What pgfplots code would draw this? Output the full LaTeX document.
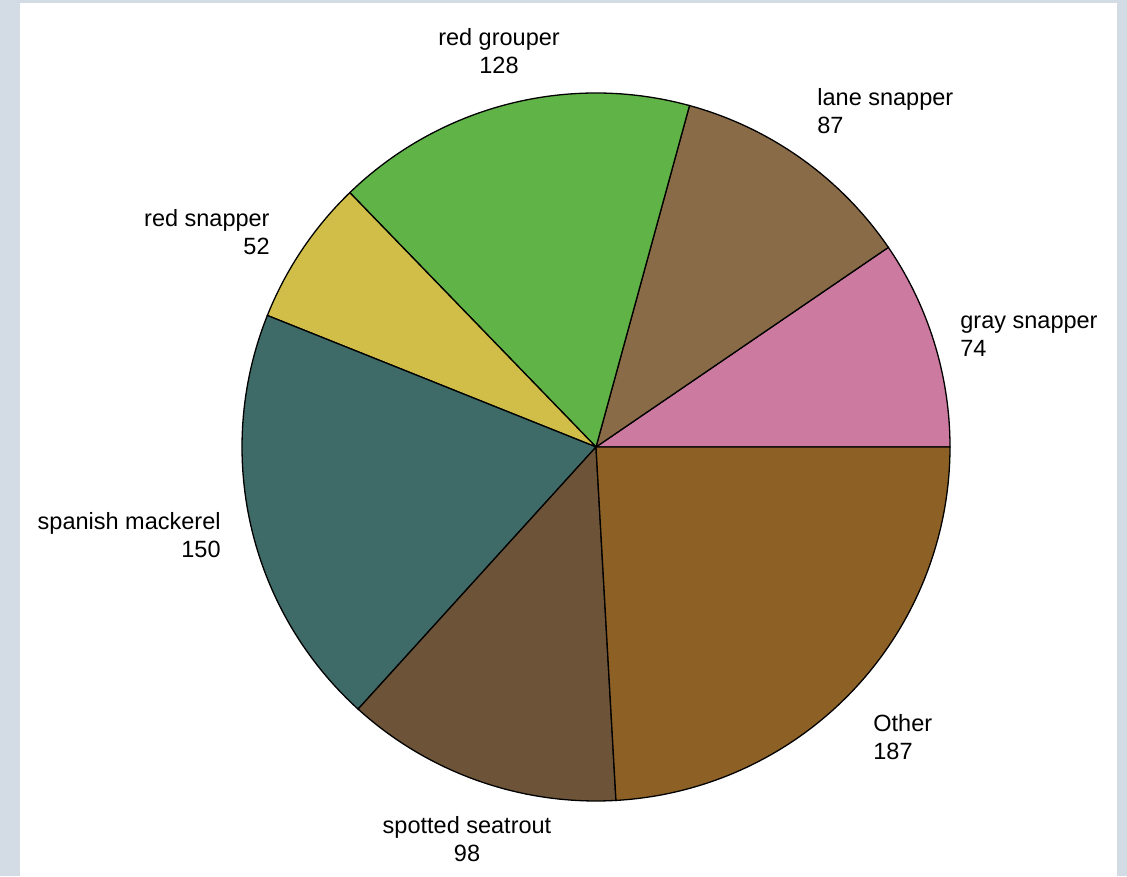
\documentclass[border=0pt]{standalone}
\usepackage{pgfplots}
\pgfplotsset{compat=1.18}
\usepackage{fontspec}
\setmainfont{Liberation Sans}
\definecolor{bgc}{HTML}{D3DCE4}
\definecolor{cA}{HTML}{CD7AA0}
\definecolor{cB}{HTML}{8A6B48}
\definecolor{cC}{HTML}{60B347}
\definecolor{cD}{HTML}{D0BE48}
\definecolor{cE}{HTML}{3E6B68}
\definecolor{cF}{HTML}{6D5438}
\definecolor{cG}{HTML}{8D6126}
\begin{document}
\begin{tikzpicture}
% values: gray snapper 74, lane snapper 87, red grouper 128, red snapper 52,
% spanish mackerel 150, spotted seatrout 98, Other 187
\pgfmathsetmacro\T{74+87+128+52+150+98+187}
\pgfmathsetmacro\aA{0}
\pgfmathsetmacro\aB{\aA+74/\T*360}
\pgfmathsetmacro\aC{\aB+87/\T*360}
\pgfmathsetmacro\aD{\aC+128/\T*360}
\pgfmathsetmacro\aE{\aD+52/\T*360}
\pgfmathsetmacro\aF{\aE+150/\T*360}
\pgfmathsetmacro\aG{\aF+98/\T*360}
\pgfmathsetmacro\aH{360}
\begin{axis}[x=0.5pt,y=0.5pt,scale only axis,
  xmin=-596,xmax=531,ymin=-429,ymax=447,
  axis lines=none,clip=false,
  every axis plot/.append style={no markers,draw=black,line width=0.65pt,samples=80}]
\fill[bgc] (axis cs:-596,-429) rectangle (axis cs:531,447);
\fill[white] (axis cs:-576,-429) rectangle (axis cs:521,444);
\addplot[fill=cA,domain=\aA:\aB,variable=\t] ({354*cos(\t)},{354*sin(\t)}) -- (axis cs:0,0) -- cycle;
\addplot[fill=cB,domain=\aB:\aC,variable=\t] ({354*cos(\t)},{354*sin(\t)}) -- (axis cs:0,0) -- cycle;
\addplot[fill=cC,domain=\aC:\aD,variable=\t] ({354*cos(\t)},{354*sin(\t)}) -- (axis cs:0,0) -- cycle;
\addplot[fill=cD,domain=\aD:\aE,variable=\t] ({354*cos(\t)},{354*sin(\t)}) -- (axis cs:0,0) -- cycle;
\addplot[fill=cE,domain=\aE:\aF,variable=\t] ({354*cos(\t)},{354*sin(\t)}) -- (axis cs:0,0) -- cycle;
\addplot[fill=cF,domain=\aF:\aG,variable=\t] ({354*cos(\t)},{354*sin(\t)}) -- (axis cs:0,0) -- cycle;
\addplot[fill=cG,domain=\aG:\aH,variable=\t] ({354*cos(\t)},{354*sin(\t)}) -- (axis cs:0,0) -- cycle;
\tikzset{lbl/.style={inner sep=0pt,font=\fontsize{11.75}{14}\selectfont,text=black}}
\node[lbl,anchor=west,align=left] at (axis cs:364,111) {gray snapper\\74};
\node[lbl,anchor=west,align=left] at (axis cs:221,336) {lane snapper\\87};
\node[lbl,anchor=center,align=center] at (axis cs:-97,396) {red grouper\\128};
\node[lbl,anchor=east,align=right] at (axis cs:-326,215) {red snapper\\52};
\node[lbl,anchor=east,align=right] at (axis cs:-375,-88) {spanish mackerel\\150};
\node[lbl,anchor=center,align=center] at (axis cs:-129,-392) {spotted seatrout\\98};
\node[lbl,anchor=west,align=left] at (axis cs:277,-290) {Other\\187};
\end{axis}
\end{tikzpicture}
\end{document}
